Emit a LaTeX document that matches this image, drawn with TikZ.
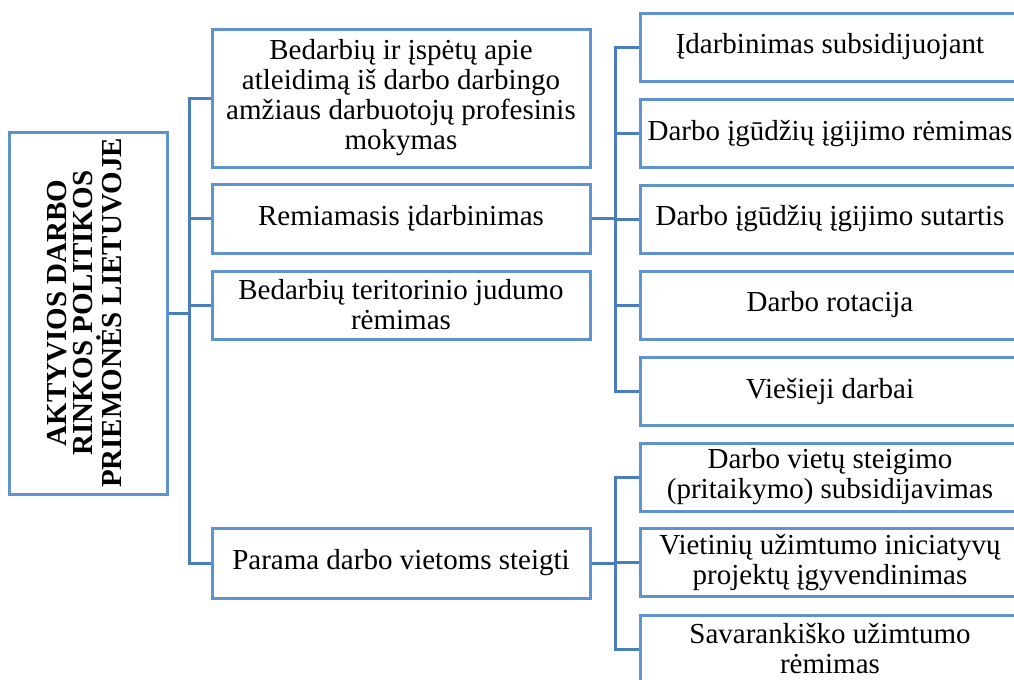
\documentclass[tikz,border=0pt]{standalone}
\usepackage{fontspec}
\setmainfont{Liberation Serif}
\usepackage{tikz}
\usetikzlibrary{positioning}
\definecolor{boxblue}{HTML}{5E93CF}
\definecolor{lineblue}{HTML}{4A7EBB}

\begin{document}
\begin{tikzpicture}
  [x=0.5pt,y=-0.5pt,
   every node/.style={draw=boxblue,line width=1.5pt,align=center,inner sep=1pt,
     font=\fontsize{14.5}{15}\selectfont},
   mid/.style={minimum width=189pt},
   leaf/.style={minimum width=190pt,minimum height=34pt}]
  \path[use as bounding box,clip] (0,0) rectangle (1014,680);
  \node[minimum width=79pt,minimum height=181pt] (root) at (88,313)
    {\rotatebox{90}{\bfseries\begin{tabular}{@{}c@{}}AKTYVIOS DARBO\\[-2pt] RINKOS POLITIKOS\\[-2pt] PRIEMONĖS LIETUVOJE\end{tabular}}};
  \node[mid,minimum height=69pt] (m1) at (401,98) {Bedarbių ir įspėtų apie\\ atleidimą iš darbo darbingo\\ amžiaus darbuotojų profesinis\\ mokymas};
  \node[mid,minimum height=34.5pt] (m2) at (401,218.5) {Remiamasis įdarbinimas};
  \node[mid,minimum height=34pt] (m3) at (401,305) {Bedarbių teritorinio judumo\\ rėmimas};
  \node[mid,minimum height=35pt] (m4) at (401,563) {Parama darbo vietoms steigti};
  \node[leaf] (r1) at (830,47) {Įdarbinimas subsidijuojant};
  \node[leaf] (r2) at (830,133.5) {Darbo įgūdžių įgijimo rėmimas};
  \node[leaf] (r3) at (830,219) {Darbo įgūdžių įgijimo sutartis};
  \node[leaf] (r4) at (830,305) {Darbo rotacija};
  \node[leaf] (r5) at (830,391) {Viešieji darbai};
  \node[leaf] (r6) at (830,477) {Darbo vietų steigimo\\ (pritaikymo) subsidijavimas};
  \node[leaf] (r7) at (830,562.5) {Vietinių užimtumo iniciatyvų\\ projektų įgyvendinimas};
  \node[leaf] (r8) at (830,649) {Savarankiško užimtumo\\ rėmimas};

  \coordinate (t1) at (189,313);
  \coordinate (t2) at (615,218.5);
  \coordinate (t3) at (615,563);

  \foreach \from/\hub/\to in {root/t1/m1,root/t1/m2,root/t1/m3,root/t1/m4,
   m2/t2/r1,m2/t2/r2,m2/t2/r3,m2/t2/r4,m2/t2/r5,m4/t3/r6,m4/t3/r7,m4/t3/r8}
    \draw[lineblue,line width=1.5pt] (\from.east) -- (\hub) |- (\to.west);
\end{tikzpicture}
\end{document}
